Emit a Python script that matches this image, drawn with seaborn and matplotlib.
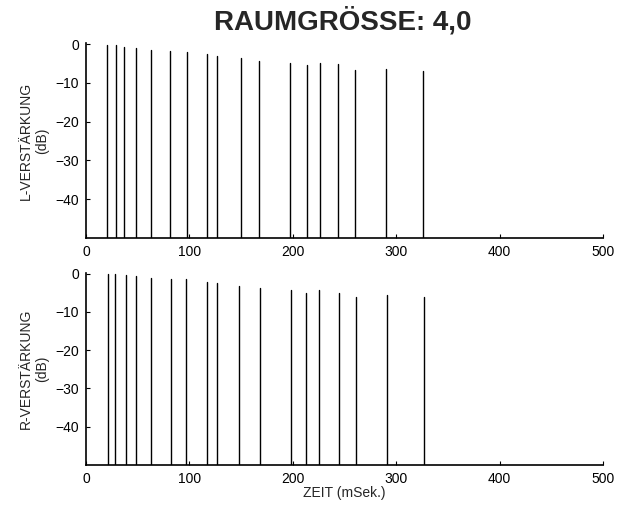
import matplotlib
matplotlib.use("Agg")
import matplotlib.pyplot as plt
import numpy as np
import pandas as pd
import seaborn as sns

# Reflection arrival times (ms) and levels (dB) for each channel
time_l = [20, 29, 37, 48, 63, 81, 98, 117, 127, 150, 167, 197, 214, 226, 244, 260, 290, 326]
gain_l = [-0.1, -0.3, -0.7, -1.0, -1.5, -1.8, -2.1, -2.6, -3.1, -3.6, -4.3, -4.8, -5.3, -4.9, -5.2, -6.7, -6.4, -7.0]
time_r = [21, 28, 39, 48, 63, 82, 97, 117, 127, 148, 168, 198, 213, 225, 245, 261, 291, 327]
gain_r = [0.0, -0.2, -0.4, -0.6, -1.1, -1.3, -1.5, -2.1, -2.5, -3.1, -3.8, -4.3, -5.1, -4.4, -5.0, -6.1, -5.7, -6.1]

floor_db = -50
x_ticks = [0, 100, 200, 300, 400, 500]
y_ticks = [0, -10, -20, -30, -40]
y_tick_labels = ["0", "\u221210", "\u221220", "\u221230", "\u221240"]

title = "RAUMGRÖSSE: 4,0"
label_l = "L-VERSTÄRKUNG\n(dB)"
label_r = "R-VERSTÄRKUNG\n(dB)"
label_x = "ZEIT (mSek.)"

sns.set_style("ticks")
plt.rcParams["font.family"] = ["Liberation Sans", "DejaVu Sans"]


def impulse_frame(times, gains):
    """Long-form table: each impulse is a vertical segment from the floor to its level."""
    rows = []
    for i, (t, g) in enumerate(zip(times, gains)):
        rows.append({"id": i, "t": t, "g": floor_db})
        rows.append({"id": i, "t": t, "g": g})
    return pd.DataFrame(rows)


fig = plt.figure(figsize=(6.28, 5.08), dpi=100)
ax_l = fig.add_axes([86 / 628, 1 - 238 / 508, 517 / 628, 195 / 508])
ax_r = fig.add_axes([86 / 628, 1 - 465 / 508, 517 / 628, 192.5 / 508])

for ax, times, gains, ylab in [(ax_l, time_l, gain_l, label_l), (ax_r, time_r, gain_r, label_r)]:
    sns.lineplot(data=impulse_frame(times, gains), x="t", y="g", units="id",
                 estimator=None, sort=False, color="black", linewidth=1.0,
                 legend=False, ax=ax)
    ax.set_xlim(0, 500)
    ax.set_ylim(floor_db, 0.3)
    ax.set_xticks(x_ticks)
    ax.set_xticklabels([str(v) for v in x_ticks])
    ax.set_yticks(y_ticks)
    ax.set_yticklabels(y_tick_labels)
    ax.tick_params(direction="in", length=3, width=0.8, labelsize=10, pad=5,
                   colors="black")
    for side in ("top", "right"):
        ax.spines[side].set_visible(False)
    for side in ("left", "bottom"):
        ax.spines[side].set_linewidth(1.2)
        ax.spines[side].set_color("black")
    ax.set_xlabel("")
    ax.set_ylabel(ylab, fontsize=10, linespacing=1.15)
    ax.yaxis.set_label_coords(-0.072, 0.5)

ax_r.set_xlabel(label_x, fontsize=10)
ax_r.xaxis.set_label_coords(0.5, -0.11)

fig.text(0.545, 1 - 21 / 508, title, ha="center", va="center",
         fontsize=20, fontweight="bold")

fig.savefig("out.png", dpi=100, facecolor="white")
